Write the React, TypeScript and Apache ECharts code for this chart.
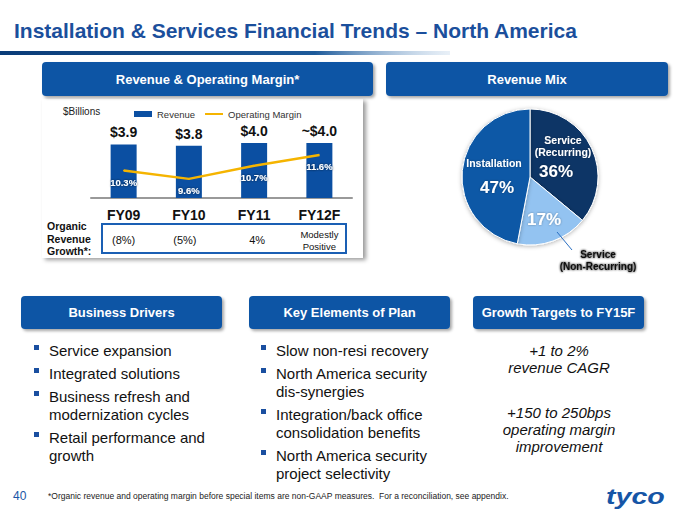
import React, { useEffect, useRef } from 'react';
import * as echarts from 'echarts';

const FF = '"Liberation Sans", Arial, sans-serif';

const categories = ['FY09', 'FY10', 'FY11', 'FY12F'];
const revenue = [3.9, 3.8, 4.0, 4.0];
const revenueLabels = ['$3.9', '$3.8', '$4.0', '~$4.0'];
const operatingMargin = [10.3, 9.6, 10.7, 11.6];
const organicGrowth = ['(8%)', '(5%)', '4%', 'Modestly\nPositive'];

const mixNames = ['Service (Recurring)', 'Service (Non-Recurring)', 'Installation'];
const mixValues = [36, 17, 47];
const mixColors = ['#0c3466', '#93c3f1', '#0b58a6'];

const businessDrivers = ['Service expansion', 'Integrated solutions', 'Business refresh and\nmodernization cycles', 'Retail performance and\ngrowth'];
const planElements = ['Slow non-resi recovery', 'North America security\ndis-synergies', 'Integration/back office\nconsolidation benefits', 'North America security\nproject selectivity'];
const growthTargets = ['+1 to 2%\nrevenue CAGR', '+150 to 250bps\noperating margin\nimprovement'];

const GRID_LEFT = 91;
const GRID_W = 261;
const BLUE = '#0b55a5';

function header(x: number, y: number, w: number, h: number, text: string): any[] {
  return [
    {
      type: 'rect', z: 1,
      shape: { x, y, width: w, height: h, r: 4 },
      style: { fill: BLUE, shadowBlur: 3, shadowOffsetX: 2, shadowOffsetY: 2, shadowColor: 'rgba(0,0,0,0.35)' },
    },
    {
      type: 'text', z: 2, x: x + w / 2, y: y + h / 2,
      style: { text, fill: '#fff', font: `bold 13px ${FF}`, align: 'center', verticalAlign: 'middle' },
    },
  ];
}

function bullets(items: string[], bx: number, tx: number, y0: number): any[] {
  const out: any[] = [];
  let y = y0;
  items.forEach((it) => {
    const lines = it.split('\n');
    out.push({ type: 'rect', z: 2, shape: { x: bx, y: y - 5, width: 5, height: 5 }, style: { fill: '#1a4fa0' } });
    lines.forEach((ln, i) => {
      out.push({ type: 'text', z: 2, x: tx, y: y + i * 18, style: { text: ln, fill: '#111', font: `15px ${FF}`, align: 'left', verticalAlign: 'middle' } });
    });
    y += (lines.length - 1) * 18 + 23;
  });
  return out;
}

export default function App() {
  const ref = useRef<HTMLDivElement>(null);
  useEffect(() => {
    const chart = echarts.init(ref.current!, null, { renderer: 'svg' });
    const graphic: any[] = [];
    // Title
    graphic.push({
      type: 'text', z: 2, x: 14, y: 30,
      style: { text: 'Installation & Services Financial Trends – North America', fill: '#1b4f9c', font: `bold 21px ${FF}`, align: 'left', verticalAlign: 'middle' },
    });
    graphic.push({
      type: 'rect', z: 1, shape: { x: 0, y: 51, width: 450, height: 4 },
      style: {
        fill: new echarts.graphic.LinearGradient(0, 0, 1, 0, [
          { offset: 0, color: '#0a3c78' },
          { offset: 0.7, color: '#1d5a9a' },
          { offset: 1, color: 'rgba(180,205,230,0.3)' },
        ]),
      },
    });
    // Panel
    graphic.push({
      type: 'rect', z: 0, shape: { x: 42, y: 99, width: 321, height: 159 },
      style: { fill: '#fff', shadowBlur: 4, shadowOffsetX: 3, shadowOffsetY: 2, shadowColor: 'rgba(0,0,0,0.4)' },
    });
    graphic.push(...header(42, 62, 331, 34, 'Revenue & Operating Margin*'));
    graphic.push(...header(386, 62, 282, 34, 'Revenue Mix'));
    graphic.push(...header(21, 296, 201, 33, 'Business Drivers'));
    graphic.push(...header(249, 296, 201, 33, 'Key Elements of Plan'));
    graphic.push(...header(473, 296, 171, 33, 'Growth Targets to FY15F'));

    graphic.push({ type: 'text', z: 2, x: 63, y: 111, style: { text: '$Billions', fill: '#222', font: `10px ${FF}`, align: 'left', verticalAlign: 'middle' } });

    // Organic revenue growth
    ['Organic', 'Revenue', 'Growth*:'].forEach((t, i) => {
      graphic.push({ type: 'text', z: 2, x: 47, y: 226 + i * 12.7, style: { text: t, fill: '#111', font: `bold 10.5px ${FF}`, align: 'left', verticalAlign: 'middle' } });
    });
    graphic.push({ type: 'rect', z: 1, shape: { x: 102, y: 224, width: 244, height: 29 }, style: { fill: '#fff', stroke: '#1a5fb4', lineWidth: 2 } });
    organicGrowth.forEach((g, i) => {
      const cx = GRID_LEFT + (i + 0.5) * (GRID_W / 4) - (i === 1 ? 4 : 0) + (i === 2 ? 3 : 0);
      const two = g.includes('\n');
      graphic.push({
        type: 'text', z: 2, x: cx, y: 240,
        style: { text: g, fill: '#111', font: `${two ? 9.5 : 11}px ${FF}`, lineHeight: 12, align: 'center', verticalAlign: 'middle' },
      });
    });

    // Pie labels
    const pl = (x: number, y: number, text: string, size: number, fill = '#fff') => ({
      type: 'text', z: 10, x, y,
      style: { text, fill, font: `bold ${size}px ${FF}`, align: 'center', verticalAlign: 'middle', lineHeight: size + 2, textShadowColor: fill === '#fff' ? 'rgba(0,0,0,0.35)' : 'transparent', textShadowBlur: 2 },
    });
    graphic.push(pl(563, 146, 'Service\n(Recurring)', 10.5));
    graphic.push(pl(556, 171, '36%', 17));
    graphic.push(pl(494, 163, 'Installation', 10.5));
    graphic.push(pl(497, 187, '47%', 17));
    graphic.push(pl(544, 219, '17%', 17));
    graphic.push(pl(598, 260, 'Service\n(Non-Recurring)', 10, '#111'));
    graphic.push({ type: 'line', z: 10, shape: { x1: 557, y1: 232, x2: 572, y2: 250 }, style: { stroke: '#2a6fc2', lineWidth: 1 } });

    // Bottom lists
    graphic.push(...bullets(businessDrivers, 34, 49, 350));
    graphic.push(...bullets(planElements, 261, 276, 350));
    let gy = 350;
    growthTargets.forEach((g) => {
      const lines = g.split('\n');
      lines.forEach((ln, i) => {
        graphic.push({ type: 'text', z: 2, x: 559, y: gy + i * 17, style: { text: ln, fill: '#111', font: `italic 15px ${FF}`, align: 'center', verticalAlign: 'middle' } });
      });
      gy += 62;
    });

    // Footer
    graphic.push({ type: 'text', z: 2, x: 13, y: 496, style: { text: '40', fill: '#1a56a6', font: `12px ${FF}`, align: 'left', verticalAlign: 'middle' } });
    graphic.push({ type: 'text', z: 2, x: 48, y: 496, style: { text: '*Organic revenue and operating margin before special items are non-GAAP measures.  For a reconciliation, see appendix.', fill: '#222', font: `8.5px ${FF}`, align: 'left', verticalAlign: 'middle' } });
    graphic.push({ type: 'text', z: 2, x: 606, y: 496, scaleX: 1.3, style: { text: 'tyco', fill: '#1655a6', font: `italic 900 22px ${FF}`, align: 'left', verticalAlign: 'middle' } });

    chart.setOption({
      animation: false,
      backgroundColor: '#fff',
      textStyle: { fontFamily: FF },
      legend: {
        left: 129, top: 104, itemWidth: 18, itemHeight: 6, itemGap: 10,
        textStyle: { fontSize: 9.5, color: '#333', fontFamily: FF },
        data: [
          { name: 'Revenue', icon: 'rect' },
          { name: 'Operating Margin', icon: 'path://M0,0 L18,0 L18,2 L0,2 Z' },
        ],
      },
      grid: { left: GRID_LEFT, width: GRID_W, top: 143, height: 55 },
      xAxis: {
        type: 'category', data: categories,
        axisLine: { lineStyle: { color: '#999', width: 2 } },
        axisTick: { show: false },
        axisLabel: { fontSize: 14, fontWeight: 'bold', color: '#111', margin: 10, fontFamily: FF },
      },
      yAxis: [
        { type: 'value', min: 0, max: 4.0, show: false, splitLine: { show: false } },
        { type: 'value', min: 8, max: 12.6, show: false, splitLine: { show: false } },
      ],
      series: [
        {
          name: 'Revenue', type: 'bar', data: revenue, barWidth: 26,
          itemStyle: { color: '#0b4fa2' },
          label: {
            show: true, position: 'top', distance: 5,
            formatter: (p: any) => revenueLabels[p.dataIndex],
            fontSize: 14, fontWeight: 'bold', color: '#111', fontFamily: FF,
          },
        },
        {
          name: 'Operating Margin', type: 'line', yAxisIndex: 1, data: operatingMargin,
          symbol: 'circle', symbolSize: 1, z: 5,
          itemStyle: { color: '#f5b400' },
          lineStyle: { color: '#f5b400', width: 2.5 },
          label: {
            show: true, position: 'bottom', distance: 6,
            formatter: (p: any) => `${p.value}%`,
            fontSize: 9.5, fontWeight: 'bold', color: '#fff', fontFamily: FF,
            textShadowColor: 'rgba(0,0,0,0.7)', textShadowBlur: 2,
          },
        },
        {
          name: 'Mix', type: 'pie', center: [530, 177], radius: 68,
          startAngle: 90, clockwise: true,
          label: { show: false }, labelLine: { show: false },
          emphasis: { disabled: true },
          itemStyle: { borderColor: '#fff', borderWidth: 1, shadowBlur: 4, shadowColor: 'rgba(0,0,0,0.3)', shadowOffsetY: 1 },
          data: mixNames.map((n, i) => ({ name: n, value: mixValues[i], itemStyle: { color: mixColors[i] } })),
        },
      ],
      graphic,
    });
    return () => chart.dispose();
  }, []);
  return <div ref={ref} style={{ position: 'absolute', left: 0, top: 0, width: 680, height: 510 }} />;
}
